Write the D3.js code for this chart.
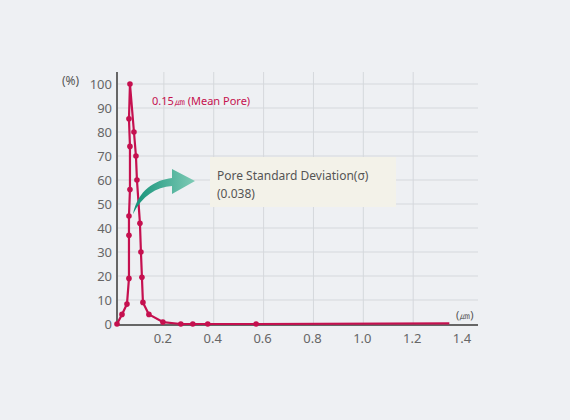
<!DOCTYPE html>
<html><head><meta charset="utf-8">
<script src="https://cdn.jsdelivr.net/npm/d3@7"></script>
<style>body{margin:0;background:#eef0f3}text{font-family:"Noto Sans",sans-serif}</style>
</head><body>
<svg id="chart" width="570" height="420"></svg>
<script>
var sizes = [0.012,0.032,0.052,0.06,0.06,0.06,0.064,0.064,0.06,0.064,0.08,0.088,0.092,0.104,0.108,0.112,0.116,0.14,0.196,0.268,0.316,0.376,0.57,1.345];
var pct =   [0,4,8.3,19,37,45,56,74,85.5,100,80,70,60,42,30,19.5,9,4,0.8,0,0,0,0,0.3];
var dots = 23; // last point has no marker
var xTicks = [0.2,0.4,0.6,0.8,1.0,1.2,1.4];
var yTicks = [0,10,20,30,40,50,60,70,80,90,100];

var svg = d3.select("#chart");
var x = d3.scaleLinear().domain([0.012,1.46]).range([117,478]);
var y = d3.scaleLinear().domain([0,100]).range([324,84]);

var grid = svg.append("g").attr("stroke","#d5d8dc").attr("stroke-width",1);
grid.selectAll(".h").data(yTicks.slice(1)).enter().append("line")
  .attr("x1",117).attr("x2",478).attr("y1",y).attr("y2",y);
grid.selectAll(".v").data(xTicks.slice(0,6)).enter().append("line")
  .attr("y1",72).attr("y2",324).attr("x1",x).attr("x2",x);

svg.append("line").attr("x1",117).attr("x2",117).attr("y1",72).attr("y2",326).attr("stroke","#666").attr("stroke-width",2);
svg.append("line").attr("x1",116).attr("x2",478).attr("y1",325).attr("y2",325).attr("stroke","#666").attr("stroke-width",2);

svg.selectAll(".yl").data(yTicks).enter().append("text")
  .attr("x",112).attr("y",function(d){return y(d)+5;}).attr("text-anchor","end")
  .attr("font-size",13).attr("fill","#666").text(function(d){return d;});
svg.selectAll(".xl").data(xTicks).enter().append("text")
  .attr("x",function(d){return x(d)-1;}).attr("y",343).attr("text-anchor","middle")
  .attr("font-size",13).attr("fill","#666").text(function(d){return d.toFixed(1);});
svg.append("text").attr("x",62).attr("y",85).attr("font-size",12).attr("fill","#555").text("(%)");
svg.append("text").attr("x",456).attr("y",319).attr("font-size",11).attr("fill","#555").text("(㎛)");

var pts = sizes.map(function(s,i){return [s,pct[i]];});
svg.append("path").datum(pts)
  .attr("d",d3.line().x(function(d){return x(d[0]);}).y(function(d){return y(d[1]);}))
  .attr("fill","none").attr("stroke","#c5104f").attr("stroke-width",2.2).attr("stroke-linejoin","round");
svg.selectAll(".pt").data(pts.slice(0,dots)).enter().append("circle")
  .attr("cx",function(d){return x(d[0]);}).attr("cy",function(d){return y(d[1]);})
  .attr("r",2.8).attr("fill","#c5104f");

svg.append("text").attr("x",152).attr("y",105).attr("font-size",11).attr("fill","#c5104f").text("0.15㎛ (Mean Pore)");

svg.append("rect").attr("x",210).attr("y",157).attr("width",186).attr("height",50).attr("fill","#f3f2e9");
svg.append("text").attr("x",217).attr("y",180).attr("font-size",12).attr("fill","#555").text("Pore Standard Deviation(σ)");
svg.append("text").attr("x",217).attr("y",198).attr("font-size",12).attr("fill","#555").text("(0.038)");

var defs = svg.append("defs");
var gr = defs.append("linearGradient").attr("id","ag").attr("x1","0").attr("x2","1");
gr.append("stop").attr("offset","0").attr("stop-color","#129178");
gr.append("stop").attr("offset","1").attr("stop-color","#7fcbb6");
svg.append("path")
  .attr("d","M133,214 C138,190 155,180 172,178 L172,169 L195,181 L172,194 L172,186 C156,187 142,196 133,214 Z")
  .attr("fill","url(#ag)");
</script>
</body></html>
